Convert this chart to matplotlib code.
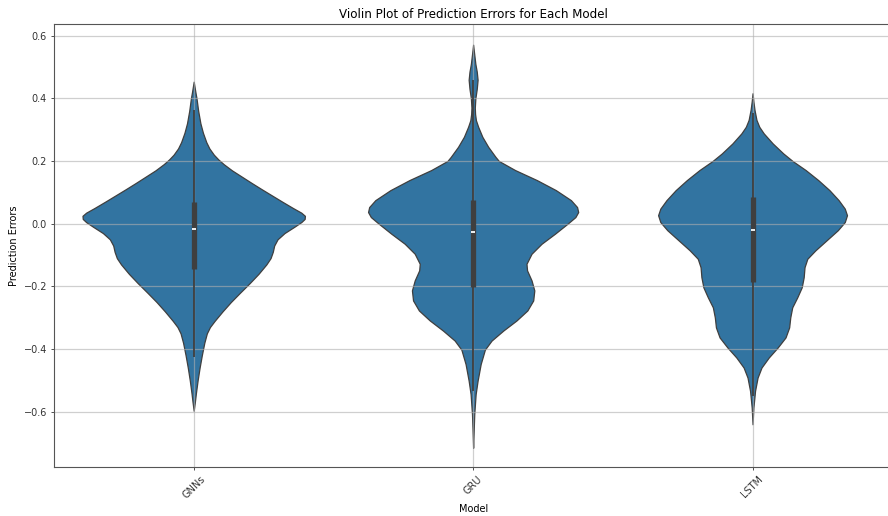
import numpy as np
import matplotlib
matplotlib.use("Agg")
import matplotlib.pyplot as plt

# Models on the x axis
models = ["GNNs", "GRU", "LSTM"]

# Density outline of each violin: error value and half-width (in category units)
gnn_err = [0.453, 0.42, 0.40, 0.36, 0.32, 0.29, 0.26, 0.24, 0.22, 0.205, 0.19, 0.17,
           0.15, 0.13, 0.11, 0.09, 0.07, 0.05, 0.035, 0.025, 0.015, 0.005, -0.01, -0.03,
           -0.05, -0.07, -0.09, -0.11, -0.13, -0.16, -0.19, -0.22, -0.25, -0.28, -0.31,
           -0.33, -0.35, -0.38, -0.42, -0.46, -0.50, -0.54, -0.57, -0.597]
gnn_half = [0.0, 0.006, 0.010, 0.016, 0.024, 0.033, 0.045, 0.056, 0.072, 0.088, 0.107, 0.137,
            0.172, 0.207, 0.243, 0.280, 0.317, 0.355, 0.385, 0.398, 0.397, 0.385, 0.360, 0.325,
            0.300, 0.288, 0.283, 0.275, 0.260, 0.232, 0.200, 0.166, 0.133, 0.103, 0.075,
            0.058, 0.047, 0.038, 0.029, 0.021, 0.014, 0.008, 0.004, 0.0]

gru_err = [0.571, 0.54, 0.51, 0.485, 0.459, 0.43, 0.40, 0.37, 0.35, 0.33, 0.309, 0.277,
           0.245, 0.213, 0.20, 0.171, 0.139, 0.107, 0.075, 0.053, 0.037, 0.021, 0.0, -0.032,
           -0.064, -0.096, -0.128, -0.149, -0.181, -0.213, -0.245, -0.277, -0.309, -0.341,
           -0.373, -0.402, -0.448, -0.501, -0.544, -0.608, -0.661, -0.715]
gru_half = [0.0, 0.004, 0.008, 0.013, 0.016, 0.013, 0.008, 0.006, 0.007, 0.010, 0.018, 0.033,
            0.054, 0.080, 0.092, 0.150, 0.228, 0.296, 0.350, 0.372, 0.376, 0.366, 0.338, 0.293,
            0.245, 0.209, 0.191, 0.193, 0.209, 0.219, 0.215, 0.194, 0.155, 0.108,
            0.066, 0.042, 0.027, 0.016, 0.009, 0.004, 0.002, 0.0]

lstm_err = [0.416, 0.39, 0.363, 0.331, 0.309, 0.288, 0.256, 0.224, 0.20, 0.171, 0.139, 0.107,
            0.075, 0.048, 0.027, 0.005, -0.021, -0.053, -0.085, -0.112, -0.139, -0.171,
            -0.203, -0.235, -0.267, -0.299, -0.331, -0.363, -0.395, -0.427, -0.459, -0.491,
            -0.533, -0.587, -0.64]
lstm_half = [0.0, 0.003, 0.007, 0.014, 0.024, 0.040, 0.072, 0.110, 0.143, 0.190, 0.235, 0.275,
             0.308, 0.330, 0.338, 0.330, 0.305, 0.265, 0.225, 0.196, 0.186, 0.183,
             0.176, 0.160, 0.142, 0.135, 0.131, 0.118, 0.090, 0.058, 0.032, 0.018,
             0.009, 0.003, 0.0]

# Box-plot summary drawn inside each violin
q1 = [-0.144, -0.203, -0.187]
median = [-0.018, -0.027, -0.021]
q3 = [0.069, 0.075, 0.085]
whisker_lo = [-0.427, -0.535, -0.55]
whisker_hi = [0.363, 0.459, 0.352]

fill_color = "#3274a1"
line_color = "#3f3f3f"

outlines = [(gnn_err, gnn_half), (gru_err, gru_half), (lstm_err, lstm_half)]

fig = plt.figure(figsize=(8.88, 5.16), dpi=100)
ax = fig.add_axes([0.0608, 0.0955, 0.944, 0.858])

stats = []
widths = []
for err, half in outlines:
    err = np.array(err)
    half = np.array(half)
    order = np.argsort(err)
    stats.append(dict(coords=err[order], vals=half[order],
                      mean=0, median=0, min=err.min(), max=err.max()))
    widths.append(2 * half.max())

pos = np.arange(len(models))
parts = ax.violin(stats, positions=pos, widths=widths,
                  showmeans=False, showextrema=False, showmedians=False)
for body in parts["bodies"]:
    body.set_facecolor(fill_color)
    body.set_edgecolor(line_color)
    body.set_linewidth(0.9)
    body.set_alpha(1)
    body.set_joinstyle("round")

# inner box: whiskers, quartile box, white median dash
ax.vlines(pos, whisker_lo, whisker_hi, color=line_color, lw=1.3, zorder=2)
ax.vlines(pos, q1, q3, color=line_color, lw=3.8, zorder=2)
ax.plot(pos, median, ls="none", marker="_", color="white", ms=3.5, mew=1.3, zorder=3)

ax.set_xlim(-0.5, 2.5)
ax.set_ylim(-0.7755, 0.637)
ax.set_yticks([-0.6, -0.4, -0.2, 0.0, 0.2, 0.4, 0.6])
ax.set_xticks(pos)
ax.set_xticklabels(models, rotation=45)
ax.tick_params(labelsize=7, colors="#333333", length=2.5, pad=2.5, width=0.6)
ax.grid(True, color="#b0b0b0", alpha=0.6, lw=0.9)

for s in ax.spines.values():
    s.set_color("#555555")
    s.set_linewidth(0.8)

ax.set_title("Violin Plot of Prediction Errors for Each Model", fontsize=8.6, pad=4)
ax.set_xlabel("Model", fontsize=7, labelpad=3)
ax.set_ylabel("Prediction Errors", fontsize=7, labelpad=3)

fig.savefig("out.png", dpi=100)
